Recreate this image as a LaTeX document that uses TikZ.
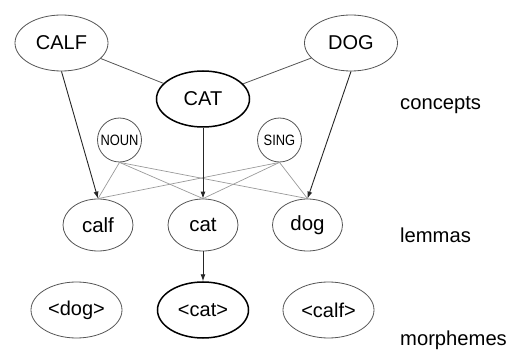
\documentclass[tikz,border=0pt]{standalone}
\usepackage{fontspec}
\setmainfont{Liberation Sans}
\usetikzlibrary{shapes.geometric,arrows.meta}
\definecolor{edgegray}{HTML}{555555}
\definecolor{lightedge}{HTML}{9A9A9A}
\tikzset{
  big/.style={ellipse, draw=edgegray, line width=0.8pt, minimum width=93pt, minimum height=56pt, inner sep=0pt, font=\fontsize{20}{24}\selectfont},
  bigbold/.style={big, draw=black, line width=1.5pt},
  small/.style={ellipse, draw=edgegray, line width=0.8pt, minimum width=70pt, minimum height=52pt, inner sep=0pt, font=\fontsize{20.5}{24}\selectfont},
  feat/.style={circle, draw=edgegray, line width=0.8pt, minimum size=44pt, inner sep=0pt, font=\fontsize{15}{17}\selectfont},
  lab/.style={anchor=west, inner sep=0pt, font=\fontsize{20.2}{23}\selectfont},
  conn/.style={draw=edgegray, line width=0.8pt},
  featline/.style={draw=lightedge, line width=0.7pt},
  arr/.style={draw=black!85, line width=0.9pt, -{Latex[length=7pt,width=5pt]}}
}
\begin{document}
\begin{tikzpicture}[x=1pt,y=-1pt]
\useasboundingbox (0,0) rectangle (520,350);
\node[big] (CALF) at (61.5,43) {CALF};
\node[big] (DOG) at (351,43) {DOG};
\node[bigbold] (CAT) at (203,99) {CAT};
\node[feat] (NOUN) at (119.5,140) {\scalebox{0.86}[1]{NOUN}};
\node[feat] (SING) at (279.5,140) {\scalebox{0.86}[1]{SING}};
\node[small] (calf) at (98,225) {calf};
\node[small] (cat) at (203,225) {cat};
\node[small] (dog) at (307.5,225) {dog};
\node[big, minimum width=91pt] (mdog) at (76.5,310) {<dog>};
\node[bigbold, minimum width=91pt] (mcat) at (203,310) {<cat>};
\node[big, minimum width=91pt] (mcalf) at (328.5,310) {<calf>};
\node[lab] (concepts) at (400,105) {concepts};
\node[lab] (lemmas) at (400,235) {lemmas};
\node[lab] (morphemes) at (400,340) {morphemes};
\draw[conn] (CALF) -- (CAT);
\draw[conn] (DOG) -- (CAT);
\foreach \s in {NOUN,SING}{
  \foreach \t in {calf,cat,dog}{
    \draw[featline] (\s.south) -- (\t.north);
  }
}
\draw[arr] (CALF.south) -- (calf.north);
\draw[arr] (DOG.south) -- (dog.north);
\draw[arr] (CAT) -- (cat);
\draw[arr] (cat) -- (mcat);
\end{tikzpicture}
\end{document}
